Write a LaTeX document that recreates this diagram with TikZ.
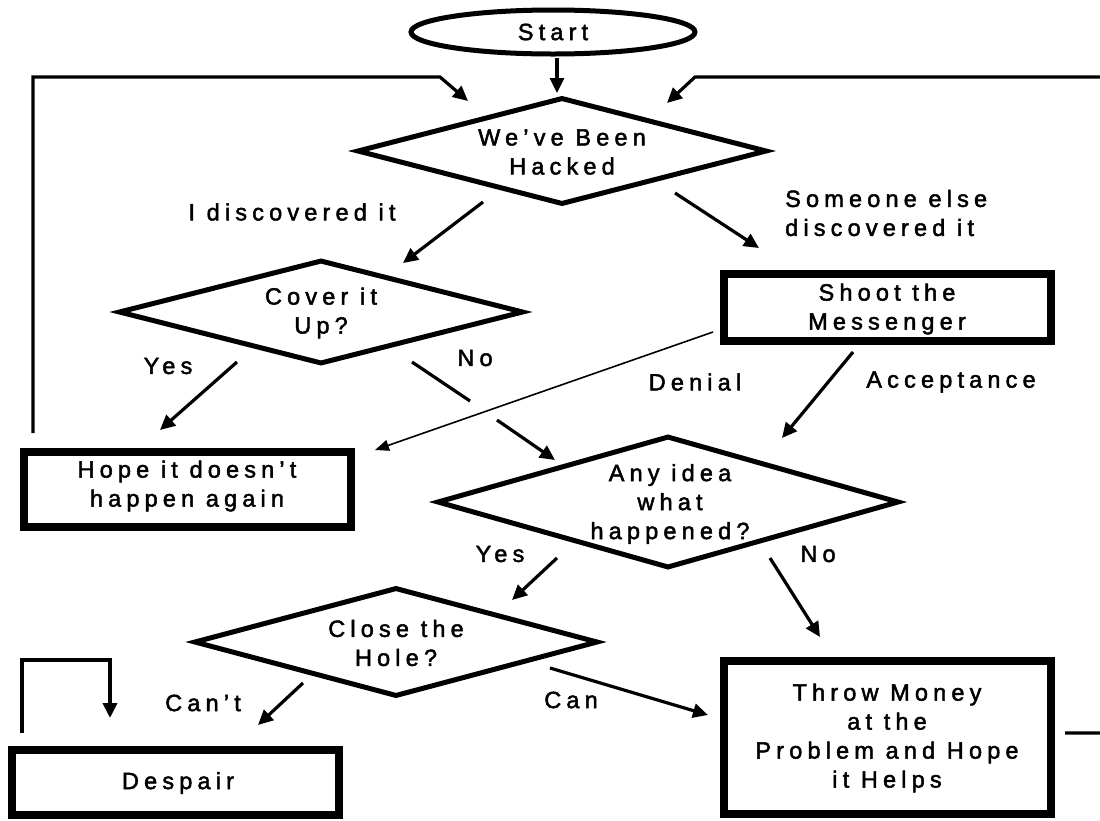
\documentclass[tikz,border=0pt]{standalone}
\usepackage{fontspec}
\setmainfont[LetterSpace=22,FakeBold=2]{Liberation Sans}
\usetikzlibrary{arrows.meta,shapes.geometric}
\begin{document}
\begin{tikzpicture}[x=1pt,y=-1pt,
  txt/.style={font=\fontsize{23.5}{29}\selectfont, align=center, inner sep=0pt},
  dia/.style={diamond, draw, line width=5pt, inner sep=0pt},
  boxn/.style={rectangle, draw, line width=8pt, inner sep=0pt, minimum width=327pt},
  arr/.style={-{Triangle[length=15pt,width=14pt]}, line width=3.2pt},
  thinarr/.style={-{Triangle[length=14pt,width=11pt]}, line width=1.6pt},
  loopline/.style={line width=3.2pt}]
\useasboundingbox (0,0) rectangle (1100,820);

% nodes
\node[ellipse, draw, line width=5pt, minimum width=284pt, minimum height=44pt, txt] (start) at (553,32) {Start};
\node[dia, minimum width=410pt, minimum height=107pt] (hack) at (562,151) {};
\node[txt] (hackT) at (562,152) {We’ve Been\\Hacked};
\node[dia, minimum width=405pt, minimum height=104pt] (cover) at (321,312) {};
\node[txt] (coverT) at (321,313) {Cover it\\Up?};
\node[boxn, minimum height=67pt] (shoot) at (887,307) {};
\node[txt] (shootT) at (887,309) {Shoot the\\Messenger};
\node[boxn, minimum height=75pt] (hope) at (187,489) {};
\node[txt] (hopeT) at (187,486) {Hope it doesn’t\\happen again};
\node[dia, minimum width=462pt, minimum height=132pt] (any) at (668,502) {};
\node[txt] (anyT) at (670,504) {Any idea\\what\\happened?};
\node[dia, minimum width=404pt, minimum height=109pt] (close) at (396,642) {};
\node[txt] (closeT) at (396,643) {Close the\\Hole?};
\node[boxn, minimum height=153pt] (throw) at (887,737) {};
\node[txt] (throwT) at (887,738) {Throw Money\\at the\\Problem and Hope\\it Helps};
\node[boxn, minimum height=65pt] (despair) at (175,782) {};
\node[txt] (despairT) at (178,783) {Despair};

% labels
\node[txt] (lDisc) at (292,212) {I discovered it};
\node[txt, align=left, anchor=west] (lElse) at (785,213) {Someone else\\discovered it};
\node[txt] (lYes1) at (168,366) {Yes};
\node[txt] (lNo1) at (475,358) {No};
\node[txt] (lDen) at (695,382) {Denial};
\node[txt] (lAcc) at (951,382) {Acceptance};
\node[txt] (lYes2) at (500,554) {Yes};
\node[txt] (lNo2) at (818,554) {No};
\node[txt] (lCant) at (203,703) {Can’t};
\node[txt] (lCan) at (571,700) {Can};

% connector end points
\coordinate (s1) at (557,58);   \coordinate (s2) at (557,93);
\coordinate (h1) at (483,202);  \coordinate (h2) at (403,263);
\coordinate (h3) at (675,193);  \coordinate (h4) at (759,248);
\coordinate (c1) at (237,362);  \coordinate (c2) at (160,430);
\coordinate (c3) at (412,362);  \coordinate (c4) at (470,401);
\coordinate (c5) at (497,420);  \coordinate (c6) at (555,460);
\coordinate (m1) at (713,332);  \coordinate (m2) at (375,450);
\coordinate (m3) at (853,352);  \coordinate (m4) at (782,438);
\coordinate (a1) at (557,558);  \coordinate (a2) at (512,600);
\coordinate (a3) at (770,558);  \coordinate (a4) at (820,637);
\coordinate (k1) at (303,683);  \coordinate (k2) at (258,725);
\coordinate (k3) at (550,668);  \coordinate (k4) at (708,715);
\coordinate (L0) at (33,433);   \coordinate (L1) at (33,77);
\coordinate (L2) at (440,77);   \coordinate (L3) at (468,101);
\coordinate (R0) at (1065,733); \coordinate (R1) at (1106,733);
\coordinate (R2) at (1106,77);  \coordinate (R3) at (695,77);
\coordinate (R4) at (667,103);
\coordinate (D0) at (22,733);   \coordinate (D1) at (22,660);
\coordinate (D2) at (110,660);  \coordinate (D3) at (110,718);

% connectors
\draw[arr] (s1) -- (s2);
\draw[arr] (h1) -- (h2);
\draw[arr] (h3) -- (h4);
\draw[arr] (c1) -- (c2);
\draw[line width=3.2pt] (c3) -- (c4);
\draw[arr] (c5) -- (c6);
\draw[thinarr] (m1) -- (m2);
\draw[arr] (m3) -- (m4);
\draw[arr] (a1) -- (a2);
\draw[arr] (a3) -- (a4);
\draw[arr] (k1) -- (k2);
\draw[arr] (k3) -- (k4);
\draw[arr, line join=miter] (L0) -- (L1) -- (L2) -- (L3);
\draw[arr, line join=miter] (R0) -- (R1) -- (R2) -- (R3) -- (R4);
\draw[arr, line width=4pt, line join=miter] (D0) -- (D1) -- (D2) -- (D3);
\end{tikzpicture}
\end{document}
